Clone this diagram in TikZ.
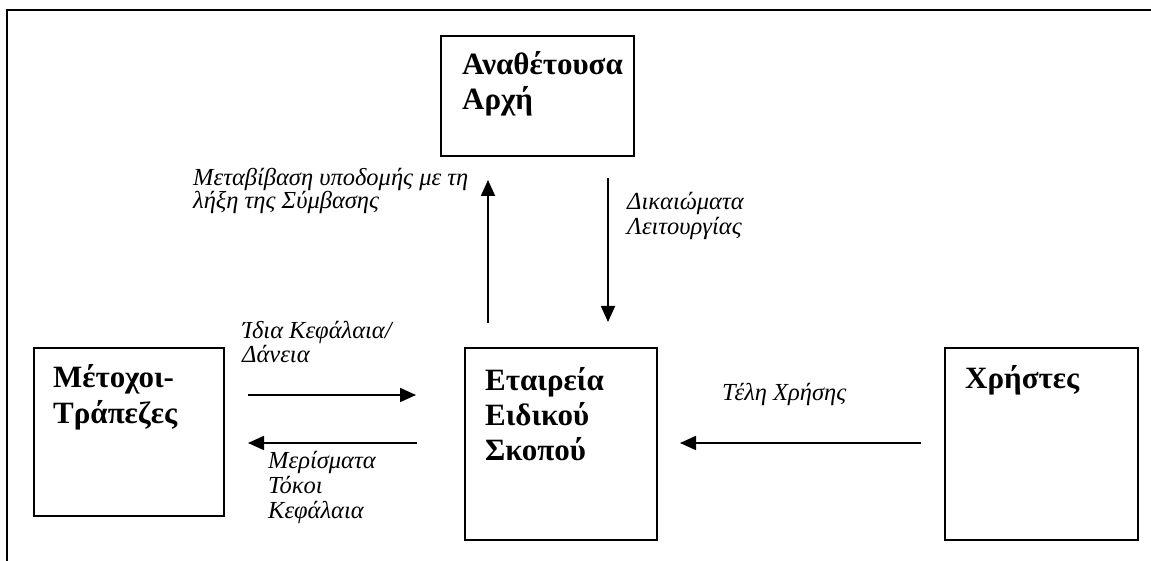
\documentclass[tikz,border=0pt]{standalone}
\usepackage{fontspec}
\setmainfont{Liberation Serif}
\usetikzlibrary{arrows.meta}

\tikzset{
  frame/.style={line width=2.4pt},
  box/.style={draw, line width=1.8pt, rectangle, inner sep=0pt, anchor=north west},
  title/.style={font=\bfseries\fontsize{31}{36}\selectfont, anchor=base west, inner sep=0pt},
  note/.style={font=\itshape\fontsize{24.5}{25}\selectfont, anchor=base west, inner sep=0pt},
  flow/.style={line width=1.8pt, -{Triangle[length=16pt,width=14pt]}}
}

\begin{document}
\begin{tikzpicture}[x=1pt,y=-1pt]
  \useasboundingbox (0,0) rectangle (1151,561);

  % outer frame (top and left edges)
  \draw[frame] (7,561) -- (7,10) -- (1151,10);

  % boxes
  \node[box, minimum width=193pt, minimum height=120pt] (auth) at (440,35) {};
  \node[box, minimum width=190pt, minimum height=168pt] (share) at (33,347) {};
  \node[box, minimum width=192pt, minimum height=192pt] (spv) at (464,347) {};
  \node[box, minimum width=193pt, minimum height=192pt] (users) at (944,347) {};

  % box titles
  \node[title] (authA) at (462,75) {Αναθέτουσα};
  \node[title] (authB) at (462,110) {Αρχή};
  \node[title] (shareA) at (53,387) {Μέτοχοι-};
  \node[title] (shareB) at (53,423) {Τράπεζες};
  \node[title] (spvA) at (485,390) {Εταιρεία};
  \node[title] (spvB) at (485,425) {Ειδικού};
  \node[title] (spvC) at (485,460) {Σκοπού};
  \node[title] (usersA) at (965,388) {Χρήστες};

  % flow end points
  \coordinate (upS) at (488,323);
  \coordinate (upE) at (488,180);
  \coordinate (dnS) at (608,178);
  \coordinate (dnE) at (608,322);
  \coordinate (eqS) at (248,395);
  \coordinate (eqE) at (416,395);
  \coordinate (dvS) at (417,443);
  \coordinate (dvE) at (248,443);
  \coordinate (feS) at (921,443);
  \coordinate (feE) at (680,443);

  % flows
  \draw[flow] (upS) -- (upE);
  \draw[flow] (dnS) -- (dnE);
  \draw[flow] (eqS) -- (eqE);
  \draw[flow] (dvS) -- (dvE);
  \draw[flow] (feS) -- (feE);

  % flow labels
  \node[note] (trA) at (193,186) {Μεταβίβαση υποδομής με τη};
  \node[note] (trB) at (193,209) {λήξη της Σύμβασης};
  \node[note] (rtA) at (627,210) {Δικαιώματα};
  \node[note] (rtB) at (627,235) {Λειτουργίας};
  \node[note] (eqA) at (242,338) {Ίδια Κεφάλαια/};
  \node[note] (eqB) at (242,362) {Δάνεια};
  \node[note] (dvA) at (268,468) {Μερίσματα};
  \node[note] (dvB) at (268,493) {Τόκοι};
  \node[note] (dvC) at (268,518) {Κεφάλαια};
  \node[note] (feA) at (722,400) {Τέλη Χρήσης};
\end{tikzpicture}
\end{document}
